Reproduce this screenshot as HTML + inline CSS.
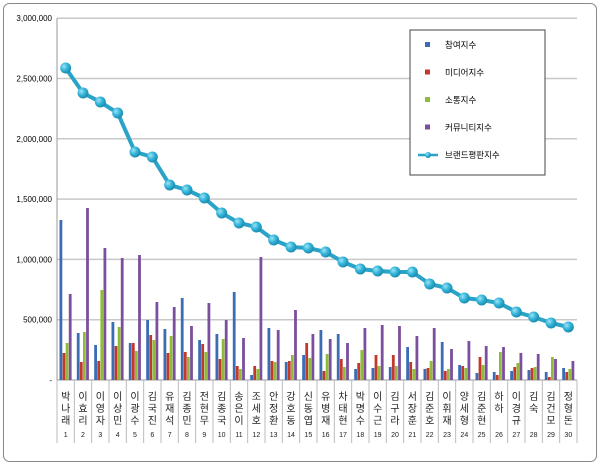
<!DOCTYPE html>
<html><head><meta charset="utf-8"><style>
body{margin:0;background:#fff;width:600px;height:465px;overflow:hidden}
svg{display:block;font-family:"Liberation Sans","Noto Sans CJK KR",sans-serif}
</style></head><body>
<svg id="s" width="600" height="465" xmlns="http://www.w3.org/2000/svg">
<defs>
<radialGradient id="dot" cx="35%" cy="35%" r="70%"><stop offset="0" stop-color="#9ee3f5"/><stop offset="0.5" stop-color="#33b5d9"/><stop offset="1" stop-color="#1a86a8"/></radialGradient>
</defs>
<rect x="3.5" y="3.5" width="593" height="458" rx="6" fill="#fff" stroke="#888"/>
<g id="g"></g>
</svg>
<script>
var g=document.getElementById('g'),h='';
var L=57,R=577,B=380,cw=(R-L)/30;
for(var i=0;i<=6;i++){var y=B-i*60.3;
 if(i>0)h+='<line x1="'+L+'" x2="'+R+'" y1="'+y+'" y2="'+y+'" stroke="#c8c8c8" stroke-width="1.5"/>';
 var t=i==0?'-':(i*500000).toLocaleString('en-US');
 h+='<text x="52" y="'+(y+3)+'" font-size="8" text-anchor="end" fill="#000">'+t+'</text>';}
h+='<line x1="'+L+'" x2="'+L+'" y1="18" y2="'+B+'" stroke="#999"/>';
h+='<line x1="'+L+'" x2="'+R+'" y1="'+B+'" y2="'+B+'" stroke="#999"/>';
var bars=[[220,353,343,294],[333,362,332,208],[345,361,290,248],[322,346,327,258],[343,343,351,255],[320,335,340,302],[329,353,336,307],[298,352,357,326],[340,344,352,303],[334,359,339,320],[292,366,369,338],[375,366,369,257],[328,361,362,330],[362,361,355,310],[355,343,358,334],[330,371,354,339],[334,359,367,343],[369,363,350,328],[368,355,366,325],[367,355,366,326],[347,362,369,336],[369,368,361,328],[342,371,369,349],[365,366,368,341],[373,357,365,346],[372,375,352,347],[371,367,363,353],[370,368,367,354],[372,377,357,359],[368,372,369,361]];
var cols=['#3a6db5','#c0392b','#8fba3a','#7b4f9e'];
var names=['박나래','이효리','이영자','이상민','이광수','김국진','유재석','김종민','전현무','김종국','송은이','조세호','안정환','강호동','신동엽','유병재','차태현','박명수','이수근','김구라','서장훈','김준호','이휘재','양세형','김준현','하하','이경규','김숙','김건모','정형돈'];
var line=[68,93,102,113,152,157,185,190,198,213,223,227,240,247,248,252,262,269,271,272,272,284,288,298,300,303,312,317,323,327];
for(var c=0;c<30;c++){var x0=L+c*cw;
 for(var k=0;k<4;k++){var y=bars[c][k];h+='<rect x="'+(x0+2.5+k*3.1).toFixed(1)+'" y="'+y+'" width="2.8" height="'+(B-y)+'" fill="'+cols[k]+'"/>';}
 h+='<line x1="'+(x0+cw)+'" x2="'+(x0+cw)+'" y1="'+B+'" y2="443" stroke="#bbb"/>';
 var n=names[c];for(var j=0;j<n.length;j++)h+='<text x="'+(x0+cw/2)+'" y="'+(400+j*12)+'" font-size="10" text-anchor="middle" fill="#222">'+n[j]+'</text>';
 h+='<text x="'+(x0+cw/2)+'" y="437" font-size="7" text-anchor="middle" fill="#222">'+(c+1)+'</text>';}
h+='<line x1="'+L+'" x2="'+L+'" y1="'+B+'" y2="443" stroke="#bbb"/>';
var pts=line.map(function(y,c){return (L+c*cw+cw/2).toFixed(1)+','+y}).join(' ');
h+='<polyline points="'+pts+'" fill="none" stroke="#2aa3c8" stroke-width="4"/>';
line.forEach(function(y,c){h+='<circle cx="'+(L+c*cw+cw/2)+'" cy="'+y+'" r="5.5" fill="url(#dot)"/>';});
h+='<rect x="410" y="30" width="135" height="145" fill="#fff" stroke="#444"/>';
var lg=['참여지수','미디어지수','소통지수','커뮤니티지수'];
for(var k=0;k<4;k++){var y=45+k*27.5;h+='<rect x="425" y="'+(y-3)+'" width="5" height="5" fill="'+cols[k]+'"/><text x="445" y="'+(y+3)+'" font-size="8.5" fill="#000">'+lg[k]+'</text>';}
h+='<line x1="418" x2="438" y1="155" y2="155" stroke="#2aa3c8" stroke-width="2.5"/><circle cx="428" cy="155" r="3" fill="url(#dot)"/><text x="445" y="158" font-size="8.5">브랜드평판지수</text>';
g.innerHTML=h;
</script>
</body></html>
